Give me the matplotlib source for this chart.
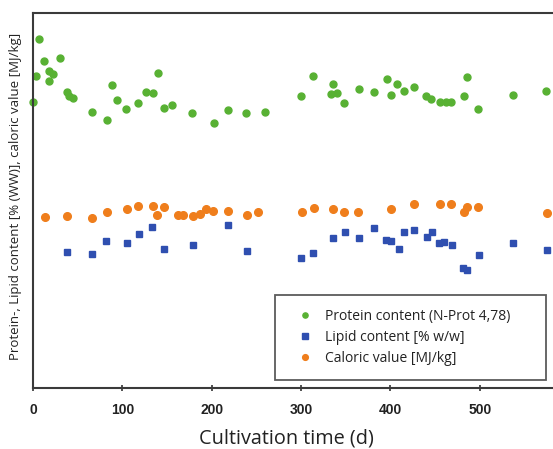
import matplotlib
matplotlib.use("Agg")
import matplotlib.pyplot as plt

# Protein content (N-Prot 4,78)
protein_days = [0, 3.4, 6.7, 12.3, 17.9, 22.4, 17.9, 30.2, 38.0, 40.3, 44.7, 66.0, 82.8, 88.4,
                94.0, 104.0, 117.4, 126.4, 134.2, 139.8, 146.5, 155.5, 177.9, 202.5, 218.1,
                238.3, 259.5, 299.8, 313.2, 335.6, 333.3, 340.0, 347.9, 364.7, 381.4, 396.0,
                400.4, 407.2, 415.0, 426.2, 439.6, 445.2, 455.3, 462.0, 467.6, 482.1, 485.5,
                497.8, 536.9, 573.8]
protein_vals = [45.8, 49.9, 55.8, 52.3, 50.7, 50.2, 49.1, 52.8, 47.4, 46.7, 46.4, 44.2, 42.9, 48.5,
                46.1, 44.6, 45.6, 47.4, 47.2, 50.4, 44.8, 45.3, 44.0, 42.4, 44.5,
                44.0, 44.2, 46.7, 49.9, 48.6, 47.0, 47.2, 45.6, 47.8, 47.4, 49.4,
                46.9, 48.6, 47.5, 48.2, 46.7, 46.2, 45.8, 45.8, 45.8, 46.7, 49.8,
                44.6, 46.9, 47.5]

# Lipid content [% w/w]
lipid_days = [38.0, 66.0, 81.7, 105.1, 118.6, 133.1, 146.5, 179.0, 218.1, 239.4, 299.8, 313.2,
              335.6, 349.0, 364.7, 381.4, 394.9, 400.4, 409.4, 415.0, 426.2, 440.7, 446.3,
              454.1, 459.7, 468.7, 481.0, 485.5, 498.9, 536.9, 575.0]
lipid_vals = [21.8, 21.4, 23.5, 23.2, 24.6, 25.8, 22.2, 22.9, 26.1, 21.9, 20.8, 21.6,
              24.0, 25.0, 24.0, 25.6, 23.7, 23.5, 22.2, 25.0, 25.3, 24.2, 25.0,
              23.2, 23.4, 22.9, 19.2, 18.9, 21.3, 23.2, 22.1]

# Caloric value [MJ/kg]
caloric_days = [13.4, 38.0, 66.0, 82.8, 105.1, 117.4, 134.2, 138.7, 146.5, 162.2, 167.8, 179.0,
                186.8, 193.5, 201.3, 218.1, 239.4, 251.7, 300.9, 314.3, 335.6, 347.9, 363.5,
                400.4, 426.2, 455.3, 467.6, 482.1, 485.5, 497.8, 575.0]
caloric_vals = [27.4, 27.5, 27.2, 28.2, 28.6, 29.1, 29.1, 27.7, 29.0, 27.7, 27.7, 27.5,
                27.8, 28.6, 28.3, 28.3, 27.7, 28.2, 28.2, 28.8, 28.6, 28.2, 28.2,
                28.6, 29.4, 29.4, 29.4, 28.2, 29.0, 29.0, 28.0]

x_ticks = [0, 100, 200, 300, 400, 500]
labels = ["Protein content (N-Prot 4,78)", "Lipid content [% w/w]", "Caloric value [MJ/kg]"]

plt.rcParams['font.family'] = ['Open Sans', 'DejaVu Sans']

fig = plt.figure(figsize=(5.53, 4.49), dpi=100)
ax = fig.add_axes([33/553, 61/449, 520/553, 375/449])

green = '#58b133'
blue = '#2f4fb0'
orange = '#ef7e1c'

ax.plot(protein_days, protein_vals, 'o', color=green, ms=5, mec=green, clip_on=False, label=labels[0])
ax.plot(lipid_days, lipid_vals, 's', color=blue, ms=5, mec=blue, clip_on=False, label=labels[1])
ax.plot(caloric_days, caloric_vals, 'o', color=orange, ms=5.5, mec=orange, clip_on=False, label=labels[2])

ax.set_xlim(0, 582)
ax.set_ylim(0, 60)
ax.set_xticks(x_ticks)
ax.set_xticklabels([str(t) for t in x_ticks], family='Liberation Sans', fontsize=10,
                   color='#222222', fontweight='semibold')
ax.set_yticks([])
ax.tick_params(axis='x', direction='inout', length=5, width=1.2, color='#333333', pad=8)

for s in ['left', 'top', 'bottom']:
    ax.spines[s].set_color('#3a3a3a')
    ax.spines[s].set_linewidth(1.5)
ax.spines['right'].set_visible(False)

ax.set_xlabel("Cultivation time (d)", fontsize=14.3, color='#222222')
ax.xaxis.set_label_coords(0.488, -0.107)
ax.set_ylabel("Protein-, Lipid content [% (WW)], caloric value [MJ/kg]", fontsize=9.5, color='#222222')
ax.yaxis.set_label_coords(-0.022, 0.512)

leg = ax.legend(loc='lower left', bbox_to_anchor=(0.465, 0.021, 0.5215, 0.227), mode='expand',
                borderaxespad=0, fontsize=10, frameon=True, fancybox=False, borderpad=1.0,
                labelspacing=0.45, handlelength=2.4, handletextpad=0.25, markerscale=0.75)
leg.get_frame().set_edgecolor('#333333')
leg.get_frame().set_linewidth(1.3)
for t in leg.get_texts():
    t.set_color('#222222')

fig.savefig('out.png', dpi=100)
